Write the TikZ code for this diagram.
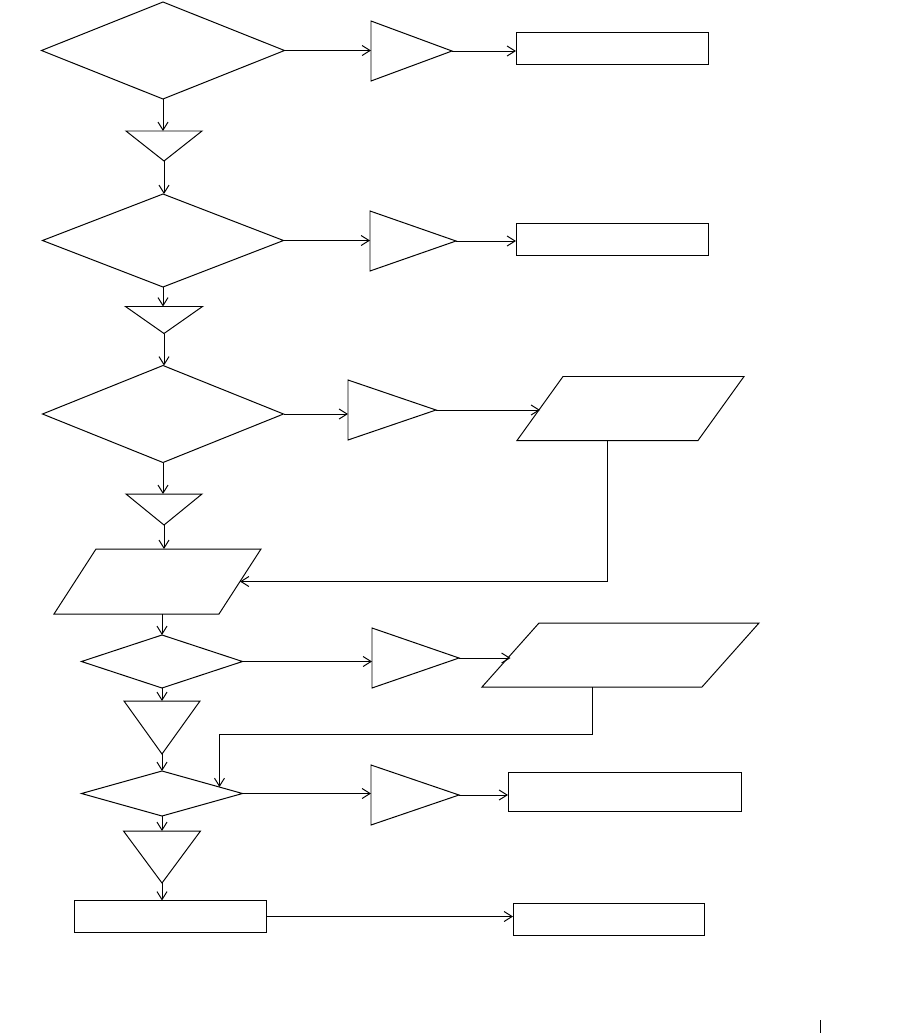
\documentclass[tikz,border=0pt]{standalone}
\usetikzlibrary{shapes.geometric,arrows.meta,calc}
\newcommand{\pxu}{0.025cm}
\tikzset{
  flowline/.style={line width=0.7pt,-{Straight Barb[length=2mm,width=2.5mm]}},
  outline/.style={line width=0.7pt,line join=miter},
  decide/.style 2 args={draw,line width=0.7pt,diamond,inner sep=0pt,outer sep=0pt,
    minimum width=#1*\pxu,minimum height=#2*\pxu},
  plainbox/.style 2 args={draw,line width=0.7pt,rectangle,inner sep=0pt,outer sep=0pt,
    minimum width=#1*\pxu,minimum height=#2*\pxu},
  frame/.style 2 args={rectangle,inner sep=0pt,outer sep=0pt,
    minimum width=#1*\pxu,minimum height=#2*\pxu},
}

\begin{document}
\begin{tikzpicture}[x=\pxu,y=-\pxu]
\useasboundingbox (0,0) rectangle (900,1034);

% Main column: decisions and the small funnels between them.
\node[decide={243}{97}] (d1) at (163,50.5) {};
\node[frame={76}{30}] (v1) at (164,146) {};
\node[decide={241}{93}] (d2) at (163,240.5) {};
\node[frame={77}{27}] (v2) at (164,320) {};
\node[decide={241}{97}] (d3) at (163,414) {};
\node[frame={76}{31}] (v3) at (164,509.5) {};
\node[frame={207}{65}] (pb) at (157.5,581.5) {};
\node[decide={161}{53}] (d4) at (162,661.5) {};
\node[frame={76}{53}] (v4) at (162,727.5) {};
\node[decide={161}{45}] (d5) at (162,793.5) {};
\node[frame={77}{52}] (v5) at (162,857) {};
\node[plainbox={192}{32}] (r4) at (170,916.5) {};

% Side branches.
\node[frame={81}{60}] (g1) at (411.5,51) {};
\node[plainbox={192}{32}] (r1) at (612,48) {};
\node[frame={86}{60}] (g2) at (413,241) {};
\node[plainbox={192}{32}] (r2) at (612,239) {};
\node[frame={88}{60}] (g3) at (392,410) {};
\node[frame={227}{64}] (pa) at (630.5,408.5) {};
\node[frame={87}{60}] (g4) at (415.5,658) {};
\node[frame={277}{64}] (pc) at (620.5,655) {};
\node[frame={88}{60}] (g5) at (415,795) {};
\node[plainbox={233}{39}] (r3) at (624.5,791.5) {};
\node[plainbox={191}{32}] (r5) at (608.5,919) {};

% Outlines of the triangles and parallelograms.
\foreach \g in {g1,g2,g3,g4,g5}
  \draw[outline] (\g.north west) -- (\g.east) -- (\g.south west) -- cycle;
\foreach \v in {v1,v2,v3,v4,v5}
  \draw[outline] (\v.north west) -- (\v.north east) -- (\v.south) -- cycle;
\foreach \p/\s in {pa/46,pb/42,pc/57} {
  \draw[outline] ($(\p.north west)+(\s,0)$) -- (\p.north east)
    -- ($(\p.south east)+(-\s,0)$) -- (\p.south west) -- cycle;
  \coordinate (\p-in) at ($(\p.west)+(\s/2,0)$);
  \coordinate (\p-back) at ($(\p.east)+(-\s/2,0)$);
  \coordinate (\p-out) at ($(\p.south)+(-\s/2,0)$);
}
\coordinate (d5-join) at ($(d5.north)!0.714!(d5.east)$);
\path (d5-join) ++(0,-53) coordinate (loop-c);

% Down the column.
\draw[flowline] (d1.south) -- (d1.south |- v1.north);
\draw[flowline] (v1.south) -- (v1.south |- d2.north);
\draw[flowline] (d2.south) -- (d2.south |- v2.north);
\draw[flowline] (v2.south) -- (v2.south |- d3.north);
\draw[flowline] (d3.south) -- (d3.south |- v3.north);
\draw[flowline] (v3.south) -- (v3.south |- pb.north);
\draw[flowline] (d4.north |- pb.south) -- (d4.north);
\draw[flowline] (d4.south) -- (d4.south |- v4.north);
\draw[flowline] (v4.south) -- (v4.south |- d5.north);
\draw[flowline] (d5.south) -- (d5.south |- v5.north);
\draw[flowline] (v5.south) -- (v5.south |- r4.north);

% Across to the right.
\draw[flowline] (d1.east) -- (d1.east -| g1.west);
\draw[flowline] (g1.east) -- (g1.east -| r1.west);
\draw[flowline] (d2.east) -- (d2.east -| g2.west);
\draw[flowline] (g2.east) -- (g2.east -| r2.west);
\draw[flowline] (d3.east) -- (d3.east -| g3.west);
\draw[flowline] (g3.east) -- (g3.east -| pa-in);
\draw[flowline] (d4.east) -- (d4.east -| g4.west);
\draw[flowline] (g4.east) -- (g4.east -| pc-in);
\draw[flowline] (d5.east) -- (d5.east -| g5.west);
\draw[flowline] (g5.east) -- (g5.east -| r3.west);
\draw[flowline] (r4.east) -- (r4.east -| r5.west);

% Loops back into the column.
\draw[flowline] (pa-out) |- (pb-back);
\draw[flowline] (pc-out) |- (loop-c) -- (d5-join);

\draw[outline] (820,1020) -- (820,1033);
\end{tikzpicture}
\end{document}
